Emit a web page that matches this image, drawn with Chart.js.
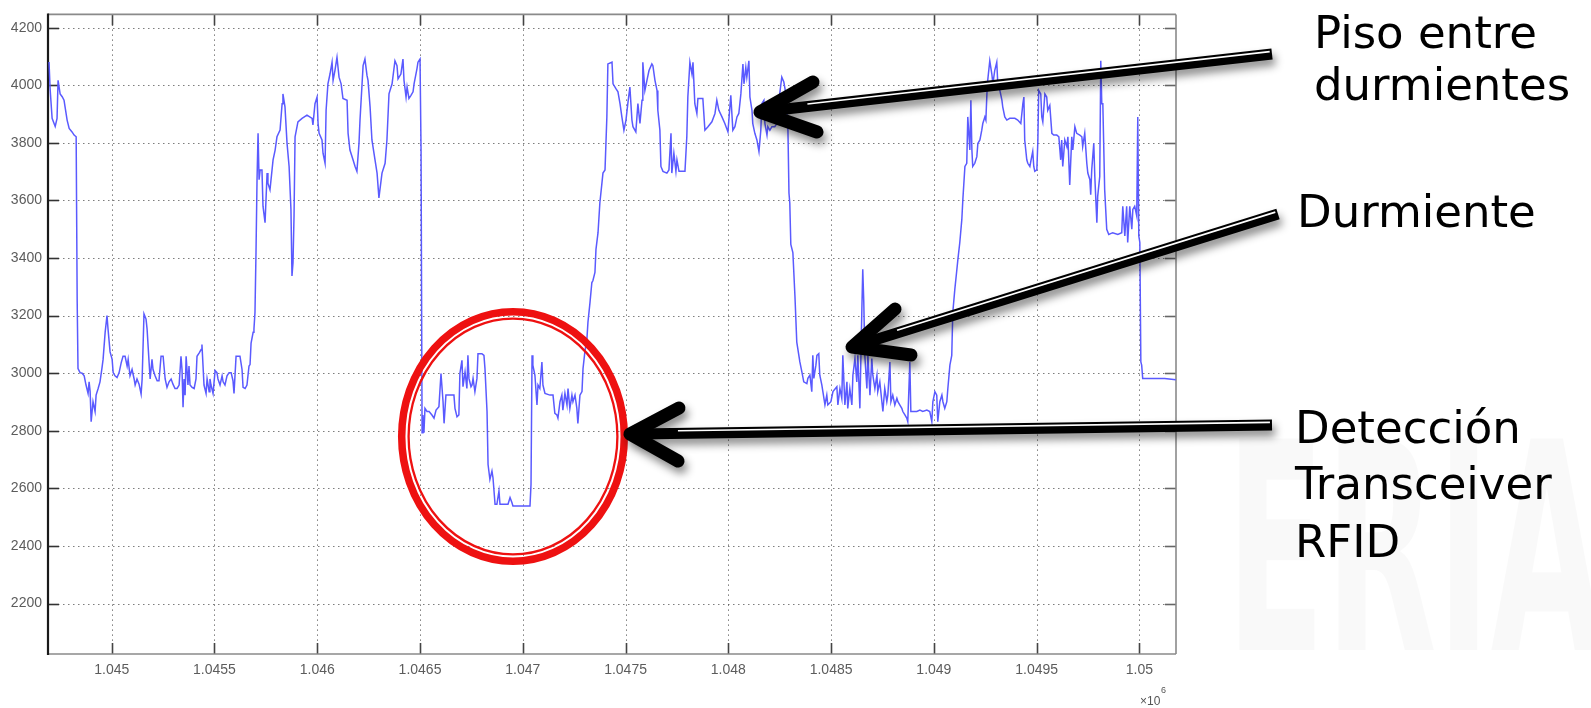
<!DOCTYPE html>
<html>
<head>
<meta charset="utf-8">
<script src="https://cdn.jsdelivr.net/npm/chart.js@4/dist/chart.umd.min.js"></script>
<style>
  html, body { margin: 0; padding: 0; background: #fff; overflow: hidden; }
  canvas { display: block; }
</style>
</head>
<body>
<canvas id="c" width="1591" height="708"></canvas>
<script>
// Sample number (x) and sensor reading (y) of the ultrasonic distance trace
const sampleIndex = [
  1044695,1044700,1044710,1044725,1044734,1044739,1044749,1044759,1044768,1044773,1044783,1044793,1044807,1044817,1044827,1044832,1044836,1044846,1044856,1044866,
  1044875,1044885,1044890,1044895,1044900,1044909,1044919,1044924,1044934,1044943,1044953,1044958,1044968,1044977,1044982,1044992,1045002,1045007,1045016,1045026,
  1045036,1045046,1045055,1045065,1045075,1045080,1045089,1045099,1045109,1045114,1045123,1045133,1045143,1045148,1045157,1045167,1045172,1045182,1045187,1045196,
  1045201,1045211,1045221,1045230,1045240,1045250,1045260,1045269,1045279,1045289,1045298,1045308,1045318,1045328,1045337,1045342,1045347,1045352,1045357,1045362,
  1045371,1045376,1045381,1045391,1045401,1045410,1045415,1045425,1045435,1045439,1045449,1045459,1045464,1045474,1045478,1045483,1045493,1045503,1045512,1045517,
  1045527,1045537,1045542,1045551,1045561,1045571,1045581,1045590,1045595,1045605,1045615,1045624,1045634,1045639,1045649,1045658,1045668,1045673,1045678,1045688,
  1045692,1045697,1045702,1045707,1045712,1045717,1045722,1045731,1045736,1045746,1045756,1045760,1045770,1045780,1045785,1045795,1045804,1045819,1045829,1045833,
  1045843,1045853,1045863,1045872,1045877,1045882,1045887,1045892,1045906,1045926,1045950,1045975,1045979,1045989,1045999,1046004,1046009,1046023,1046028,1046038,
  1046043,1046052,1046062,1046072,1046077,1046086,1046096,1046106,1046116,1046125,1046145,1046150,1046159,1046174,1046184,1046193,1046203,1046208,1046218,1046223,
  1046232,1046242,1046247,1046257,1046266,1046281,1046291,1046300,1046315,1046330,1046339,1046349,1046364,1046378,1046388,1046393,1046407,1046417,1046422,1046432,
  1046437,1046446,1046456,1046466,1046471,1046485,1046490,1046500,1046505,1046510,1046514,1046519,1046524,1046534,1046544,1046558,1046568,1046578,1046592,1046602,
  1046612,1046617,1046626,1046655,1046665,1046670,1046680,1046689,1046694,1046704,1046709,1046719,1046728,1046733,1046738,1046748,1046753,1046758,1046767,1046777,
  1046782,1046801,1046811,1046816,1046826,1046831,1046840,1046850,1046855,1046865,1046874,1046884,1046889,1046928,1046938,1046947,1046952,1047035,1047040,1047045,
  1047049,1047059,1047069,1047074,1047083,1047093,1047098,1047108,1047132,1047147,1047156,1047166,1047171,1047181,1047190,1047195,1047205,1047215,1047220,1047229,
  1047239,1047244,1047254,1047263,1047268,1047278,1047288,1047293,1047302,1047312,1047317,1047327,1047336,1047341,1047351,1047356,1047366,1047375,1047385,1047390,
  1047400,1047409,1047414,1047434,1047439,1047453,1047463,1047473,1047482,1047492,1047502,1047511,1047521,1047531,1047536,1047550,1047560,1047570,1047580,1047584,
  1047594,1047604,1047614,1047628,1047633,1047643,1047653,1047657,1047667,1047672,1047682,1047701,1047711,1047721,1047725,1047735,1047745,1047750,1047760,1047789,
  1047798,1047803,1047813,1047823,1047828,1047837,1047847,1047852,1047876,1047886,1047901,1047920,1047935,1047944,1047954,1047969,1047983,1047998,1048012,1048022,
  1048032,1048042,1048051,1048061,1048071,1048076,1048085,1048090,1048100,1048105,1048115,1048119,1048129,1048139,1048149,1048158,1048163,1048173,1048178,1048188,
  1048192,1048202,1048212,1048226,1048236,1048246,1048260,1048270,1048280,1048290,1048295,1048299,1048304,1048314,1048324,1048333,1048348,1048358,1048367,1048382,
  1048387,1048397,1048406,1048411,1048416,1048426,1048431,1048440,1048445,1048455,1048460,1048470,1048479,1048484,1048499,1048509,1048528,1048533,1048543,1048552,
  1048557,1048567,1048577,1048581,1048591,1048601,1048606,1048616,1048625,1048630,1048640,1048650,1048654,1048659,1048664,1048674,1048679,1048689,1048698,1048703,
  1048713,1048723,1048727,1048737,1048747,1048752,1048761,1048771,1048776,1048786,1048791,1048800,1048810,1048820,1048825,1048834,1048844,1048849,1048859,1048868,
  1048873,1048883,1048888,1048898,1048917,1048932,1048946,1048966,1048980,1048990,1048995,1049005,1049014,1049019,1049029,1049039,1049044,1049053,1049063,1049068,
  1049078,1049087,1049092,1049102,1049112,1049117,1049126,1049136,1049141,1049151,1049160,1049165,1049175,1049180,1049185,1049189,1049199,1049209,1049214,1049224,
  1049233,1049238,1049248,1049253,1049258,1049262,1049272,1049282,1049287,1049296,1049306,1049311,1049321,1049331,1049335,1049345,1049355,1049369,1049394,1049408,
  1049423,1049433,1049438,1049442,1049452,1049457,1049467,1049476,1049481,1049486,1049491,1049501,1049506,1049510,1049520,1049525,1049530,1049540,1049549,1049554,
  1049564,1049574,1049583,1049598,1049608,1049617,1049622,1049627,1049637,1049647,1049652,1049661,1049671,1049676,1049686,1049695,1049710,1049720,1049724,1049734,
  1049744,1049749,1049759,1049763,1049768,1049778,1049783,1049793,1049797,1049807,1049812,1049817,1049822,1049831,1049841,1049851,1049870,1049895,1049914,1049919,
  1049929,1049938,1049943,1049953,1049963,1049968,1049977,1049987,1049992,1049997,1050002,1050007,1050011,1050016,1050050,1050123,1050177
];
const reading = [
  4081,3990,3885,3857,3885,4017,3970,3960,3948,3925,3879,3850,3838,3827,3821,3250,3016,3002,3000,2991,
  2959,2930,2970,2936,2832,2901,2867,2924,2947,2970,3020,3048,3142,3200,3154,3074,3048,3002,2991,2985,
  3002,3036,3059,3059,3025,3048,2991,3013,2980,2959,2980,2962,2928,2980,3206,3188,3154,3036,2980,3048,
  3013,2991,2974,2974,3059,3059,2980,2951,2970,2980,2962,2947,2947,2959,3059,3013,2882,2980,2924,3059,
  2959,3025,2959,2951,2947,2980,3059,3070,3082,3100,2959,2930,2980,2936,2980,2959,2930,3009,3002,2980,
  2959,2991,2970,2959,2991,3002,3002,2974,2930,3059,3059,3059,3013,2951,2947,2959,3025,3030,3105,3142,
  3154,3211,3420,3672,3833,3672,3706,3706,3580,3523,3695,3660,3637,3706,3741,3775,3821,3844,3936,3970,
  3925,3798,3718,3569,3338,3384,3546,3821,3873,3885,3896,3885,3862,3936,3959,3867,3833,3810,3764,3729,
  3913,4005,4039,4080,4017,4051,4097,4028,4005,3954,3948,3833,3775,3741,3718,3701,3798,3879,4005,4068,
  4091,4034,4017,3925,3810,3741,3695,3609,3695,3729,3810,3970,4005,4085,4068,4022,4039,4091,4017,3959,
  3994,3954,3965,3977,4005,4057,4080,4091,3775,2793,2855,2793,2878,2867,2867,2855,2844,2872,2884,2999,
  2901,2826,2924,2924,2924,2878,2849,2855,2999,3045,2953,3005,2947,3062,2982,2953,2959,2982,2936,2982,
  3068,3068,3062,3016,2867,2683,2631,2660,2637,2545,2545,2591,2545,2545,2568,2551,2539,2539,2614,3062,
  3028,2993,2890,2959,2947,3039,2959,2930,2924,2924,2861,2855,2844,2901,2924,2872,2930,2890,2947,2878,
  2924,2901,2924,2878,2826,2924,2936,3016,3074,3120,3177,3246,3315,3321,3350,3430,3488,3592,3660,3695,
  3706,3890,4074,4080,4005,3988,3977,3936,3890,3844,3879,3936,3994,3879,3856,3838,3936,3867,3948,4080,
  3982,4017,4051,4074,4068,4017,3982,3913,3844,3718,3701,3695,3706,3833,3695,3764,3701,3741,3701,3701,
  3821,3959,4080,4039,4080,3936,3902,3954,3954,3844,3856,3873,3902,3948,3913,3890,3867,3838,3965,3844,
  3856,3890,3902,3970,4074,4005,4062,4028,4085,3959,3913,3867,3833,3810,3770,3844,3936,3948,3867,3827,
  3856,3844,3856,3856,3867,3948,4028,4011,3970,3844,3626,3591,3447,3419,3269,3108,3039,3004,2970,2964,
  2982,2993,2936,3062,2982,3028,3062,3068,2993,2959,2936,2890,2924,2890,2901,2936,2953,2890,2947,2913,
  3062,2890,2970,2878,2947,2890,2993,3051,2970,3062,2878,3234,3361,3246,3062,2947,3062,2924,3051,2993,
  2947,2993,2936,2970,2901,2867,2947,2901,2924,3039,2901,2924,2890,2913,2901,2890,2878,2867,2855,2844,
  2832,3039,2867,2867,2867,2872,2867,2872,2867,2832,2901,2936,2924,2832,2901,2924,2901,2878,2901,2947,
  3028,3062,3211,3292,3361,3396,3453,3534,3603,3718,3729,3890,3775,3948,3775,3718,3729,3752,3798,3810,
  3844,3867,3890,3879,3970,4017,4085,4039,4005,4051,4080,4005,3982,3948,3925,3890,3879,3885,3885,3879,
  3867,3936,3959,3810,3741,3729,3718,3752,3770,3718,3701,3706,3810,3982,3970,3890,3873,3970,3959,3913,
  3930,3833,3827,3827,3821,3741,3810,3718,3810,3787,3821,3654,3821,3775,3856,3833,3827,3821,3787,3833,
  3729,3695,3672,3620,3706,3798,3683,3523,3614,3683,4085,3936,3936,3637,3500,3482,3488,3482,3488,3580,
  3477,3580,3454,3580,3500,3569,3580,3546,3890,3477,3454,3039,3028,2982,2982,2982,2977
];

// Axis ranges and tick marks
const xRange = [1044690, 1050178];
const yRange = [2025, 4246];
const xTickValues = [1045000, 1045500, 1046000, 1046500, 1047000, 1047500, 1048000, 1048500, 1049000, 1049500, 1050000];
const xTickLabels = ['1.045', '1.0455', '1.046', '1.0465', '1.047', '1.0475', '1.048', '1.0485', '1.049', '1.0495', '1.05'];
const yTickValues = [2200, 2400, 2600, 2800, 3000, 3200, 3400, 3600, 3800, 4000, 4200];
const yTickLabels = ['2200', '2400', '2600', '2800', '3000', '3200', '3400', '3600', '3800', '4000', '4200'];

// Callout texts
const noteFloor = ['Piso entre', 'durmientes'];
const noteSleeper = ['Durmiente'];
const noteTag = ['Detección', 'Transceiver', 'RFID'];
const axisExponent = '6';

function line(ctx, x1, y1, x2, y2) {
  ctx.beginPath(); ctx.moveTo(x1, y1); ctx.lineTo(x2, y2); ctx.stroke();
}

// Thick black arrow with a thin white stripe along its shaft and a soft drop shadow
function drawArrow(ctx, tip, tail, armA, armB) {
  const dx = tail[0] - tip[0], dy = tail[1] - tip[1];
  const len = Math.hypot(dx, dy), ux = dx / len, uy = dy / len;
  const nx = uy, ny = -ux; // normal pointing to the upper side
  const s0 = [tip[0] + ux * 6, tip[1] + uy * 6];
  ctx.save();
  ctx.shadowColor = 'rgba(0,0,0,0.45)';
  ctx.shadowBlur = 8;
  ctx.shadowOffsetX = 3;
  ctx.shadowOffsetY = 6;
  ctx.strokeStyle = '#000';
  ctx.lineWidth = 11;
  ctx.lineCap = 'butt';
  line(ctx, s0[0], s0[1], tail[0], tail[1]);
  ctx.lineWidth = 13;
  ctx.lineCap = 'round';
  ctx.lineJoin = 'round';
  ctx.beginPath();
  ctx.moveTo(armA[0], armA[1]); ctx.lineTo(tip[0], tip[1]); ctx.lineTo(armB[0], armB[1]);
  ctx.stroke();
  ctx.restore();
  ctx.save();
  ctx.strokeStyle = '#fff';
  ctx.lineWidth = 1.7;
  const off = 2.6;
  const a = [tip[0] + ux * 48 + nx * off, tip[1] + uy * 48 + ny * off];
  const b = [tail[0] - ux * 2 + nx * off, tail[1] - uy * 2 + ny * off];
  line(ctx, a[0], a[1], b[0], b[1]);
  ctx.restore();
}

const framePlugin = {
  id: 'frame',
  beforeDraw(chart) {
    const ctx = chart.ctx;
    ctx.save();
    ctx.fillStyle = '#fff';
    ctx.fillRect(0, 0, chart.width, chart.height);
    // very faint background lettering on the right side
    ctx.fillStyle = 'rgba(0,0,0,0.022)';
    ctx.font = 'bold 290px "DejaVu Sans"';
    ctx.textBaseline = 'alphabetic';
    ctx.translate(1226, 650);
    ctx.scale(0.5, 1);
    ctx.fillText('ERIA', 0, 0);
    ctx.restore();
  },
  beforeDatasetsDraw(chart) {
    const ctx = chart.ctx;
    const { left, right, top, bottom } = chart.chartArea;
    const xs = chart.scales.x, ys = chart.scales.y;
    ctx.save();
    // dotted grid
    ctx.strokeStyle = 'rgba(70,70,70,0.7)';
    ctx.lineWidth = 1;
    ctx.setLineDash([1.5, 3.5]);
    xTickValues.forEach(v => {
      const px = Math.round(xs.getPixelForValue(v)) + 0.5;
      line(ctx, px, top, px, bottom);
    });
    yTickValues.forEach(v => {
      const py = Math.round(ys.getPixelForValue(v)) + 0.5;
      line(ctx, left, py, right, py);
    });
    ctx.setLineDash([]);
    // inward tick marks on all four sides
    ctx.lineWidth = 1.6;
    xTickValues.forEach(v => {
      const px = Math.round(xs.getPixelForValue(v)) + 0.5;
      ctx.strokeStyle = '#444';
      line(ctx, px, bottom, px, bottom - 11);
      line(ctx, px, top, px, top + 11);
    });
    yTickValues.forEach(v => {
      const py = Math.round(ys.getPixelForValue(v)) + 0.5;
      ctx.strokeStyle = '#333';
      line(ctx, left, py, left + 11, py);
      ctx.strokeStyle = '#666';
      line(ctx, right, py, right - 11, py);
    });
    // axes box
    ctx.strokeStyle = '#8a8a8a';
    ctx.lineWidth = 1.6;
    line(ctx, left, top, right, top);
    line(ctx, right, top, right, bottom);
    line(ctx, left, bottom, right, bottom);
    ctx.strokeStyle = '#1a1a1a';
    ctx.lineWidth = 2.2;
    line(ctx, left, top - 1, left, bottom + 1);
    ctx.restore();
  },
  afterDraw(chart) {
    const ctx = chart.ctx;
    ctx.save();
    // axis multiplier
    ctx.fillStyle = '#555';
    ctx.font = '12px "Liberation Sans"';
    ctx.textBaseline = 'alphabetic';
    ctx.fillText('\u00d710', 1140, 705);
    ctx.font = '9px "Liberation Sans"';
    ctx.fillText(axisExponent, 1161, 693);

    // red double ring around the tag detection
    ctx.strokeStyle = '#ee1111';
    ctx.lineWidth = 7.5;
    ctx.beginPath();
    ctx.ellipse(513, 436.5, 111.3, 124.8, 0, 0, Math.PI * 2);
    ctx.stroke();
    ctx.lineWidth = 2.3;
    ctx.beginPath();
    ctx.ellipse(513, 436.5, 104.4, 117.9, 0, 0, Math.PI * 2);
    ctx.stroke();
    ctx.restore();

    drawArrow(ctx, [760, 112], [1272, 54], [813, 82], [817, 132]);
    drawArrow(ctx, [852, 347], [1278, 214], [895, 309], [911, 355]);
    drawArrow(ctx, [630, 434], [1272, 425], [679, 408], [678, 461]);

    ctx.save();
    ctx.fillStyle = '#000';
    ctx.font = '45px "DejaVu Sans"';
    ctx.textBaseline = 'alphabetic';
    ctx.fillText(noteFloor[0], 1314, 48);
    ctx.fillText(noteFloor[1], 1314, 100);
    ctx.fillText(noteSleeper[0], 1297, 227);
    ctx.fillText(noteTag[0], 1295, 443);
    ctx.fillText(noteTag[1], 1295, 499);
    ctx.fillText(noteTag[2], 1295, 557);
    ctx.restore();
  }
};

const points = sampleIndex.map((s, i) => ({ x: s, y: reading[i] }));

new Chart(document.getElementById('c').getContext('2d'), {
  type: 'line',
  data: {
    datasets: [{
      data: points,
      borderColor: '#5a5aff',
      borderWidth: 1.5,
      pointRadius: 0,
      tension: 0,
      fill: false
    }]
  },
  options: {
    responsive: false,
    animation: false,
    events: [],
    layout: { padding: { left: 0, top: 10, right: 415, bottom: 0 } },
    plugins: { legend: { display: false }, tooltip: { enabled: false } },
    scales: {
      x: {
        type: 'linear',
        min: xRange[0],
        max: xRange[1],
        afterBuildTicks: s => { s.ticks = xTickValues.map(v => ({ value: v })); },
        afterFit: s => { s.height = 54; },
        grid: { display: false, drawTicks: false },
        border: { display: false },
        ticks: {
          autoSkip: false,
          maxRotation: 0,
          padding: 8,
          color: '#5c5c5c',
          font: { family: '"Liberation Sans"', size: 14 },
          callback: (v, i) => xTickLabels[i]
        }
      },
      y: {
        type: 'linear',
        min: yRange[0],
        max: yRange[1],
        afterBuildTicks: s => { s.ticks = yTickValues.map(v => ({ value: v })); },
        afterFit: s => { s.width = 48; },
        grid: { display: false, drawTicks: false },
        border: { display: false },
        ticks: {
          autoSkip: false,
          padding: 6,
          color: '#5c5c5c',
          font: { family: '"Liberation Sans"', size: 14 },
          callback: (v, i) => yTickLabels[i]
        }
      }
    }
  },
  plugins: [framePlugin]
});
</script>
</body>
</html>
